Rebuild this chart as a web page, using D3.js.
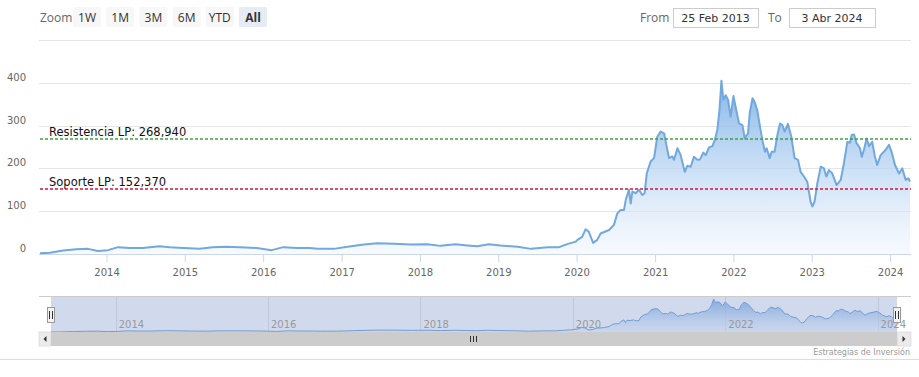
<!DOCTYPE html>
<html>
<head>
<meta charset="utf-8">
<script src="https://cdn.jsdelivr.net/npm/d3@7/dist/d3.min.js"></script>
<style>
  body { margin: 0; background: #fff; }
  svg { display: block; font-family: "DejaVu Sans", Verdana, sans-serif; }
</style>
</head>
<body>
<div id="chart"></div>
<script>
// price series
const dates = [
  "2013-02-25","2013-04-12","2013-06-13","2013-08-13","2013-10-07","2013-11-22",
  "2014-01-08","2014-02-24","2014-04-18","2014-06-20","2014-09-05","2014-10-22","2014-12-25",
  "2015-03-11","2015-05-11","2015-07-12","2015-09-13","2015-12-02",
  "2016-02-10","2016-04-04","2016-06-06","2016-08-07","2016-09-10","2016-11-25",
  "2017-02-13","2017-04-15","2017-06-16","2017-09-01","2017-11-18",
  "2018-02-05","2018-04-06","2018-06-16","2018-08-10","2018-09-25","2018-11-18",
  "2019-01-11","2019-04-01","2019-06-03","2019-08-19","2019-10-12","2019-11-18","2019-12-28",
  "2020-01-05","2020-01-27","2020-02-12","2020-02-27","2020-03-18","2020-04-06","2020-04-22",
  "2020-05-31","2020-06-23","2020-07-09","2020-07-24","2020-08-09","2020-08-17","2020-09-01",
  "2020-09-09","2020-09-17","2020-10-02","2020-10-18","2020-11-02","2020-11-13","2020-11-23",
  "2020-12-11","2020-12-27",
  "2021-01-11","2021-01-27","2021-02-12","2021-02-24","2021-03-07","2021-03-22","2021-03-30",
  "2021-04-15","2021-04-30","2021-05-19","2021-05-31","2021-06-16","2021-07-01","2021-07-17",
  "2021-07-29","2021-08-14","2021-08-25","2021-09-09","2021-09-25","2021-10-06","2021-10-18",
  "2021-10-28","2021-11-06","2021-11-15","2021-11-26","2021-12-07","2021-12-19",
  "2022-01-01","2022-01-11","2022-01-27","2022-02-12","2022-02-23","2022-03-10","2022-03-18",
  "2022-03-31","2022-04-11","2022-04-22","2022-05-05","2022-05-16","2022-05-28","2022-06-05",
  "2022-06-19","2022-06-28","2022-07-12","2022-07-25","2022-08-06","2022-08-17","2022-08-28",
  "2022-09-12","2022-09-28","2022-10-13","2022-10-29","2022-11-10","2022-11-26","2022-12-11",
  "2022-12-27",
  "2023-01-04","2023-01-14","2023-01-27","2023-02-12","2023-02-27","2023-03-10","2023-03-22",
  "2023-04-07","2023-04-27","2023-05-16","2023-05-31","2023-06-16","2023-06-28","2023-07-06",
  "2023-07-17","2023-07-29","2023-08-14","2023-08-22","2023-09-01","2023-09-14","2023-09-25",
  "2023-10-10","2023-10-21","2023-11-02","2023-11-18","2023-12-11","2023-12-27",
  "2024-01-08","2024-01-24","2024-02-12","2024-02-27","2024-03-14","2024-03-26","2024-04-03"
];
const prices = [
  2, 3, 8, 11, 12, 7,
  9, 16, 14, 14, 18, 16, 14,
  12, 16, 17, 16, 14,
  9, 16, 14, 14, 12, 12,
  18, 22, 25, 24, 22,
  23, 19, 23, 20, 18, 23,
  20, 17, 12, 16, 16, 23, 29,
  33, 40, 58, 52, 26, 33, 48,
  56, 68, 95, 103, 103, 126, 150,
  118, 146, 142, 150, 138, 142, 188,
  216, 224,
  274, 286, 282, 251, 224, 228, 220,
  247, 231, 192, 206, 204, 227, 220,
  221, 237, 231, 249, 252, 266, 290,
  336, 405, 361, 371, 360, 321,
  369, 344, 305, 301, 270, 282, 329,
  364, 354, 336, 297, 266, 239, 247,
  224, 239, 239, 278, 305, 301, 286,
  304, 274, 224, 220, 192, 181, 169,
  122,
  111, 122, 165, 204, 200, 181, 196,
  188, 161, 173, 212, 262, 260, 278,
  279, 259, 247, 227, 243, 270, 252,
  262, 231, 208, 231, 243, 255,
  239, 208, 188, 200, 173, 177, 169
];

// long term support / resistance
const levelNames = ["Resistencia LP", "Soporte LP"];
const levelValues = [268.94, 152.37];
const levelColors = ["#3fa23f", "#d8143c"];

const yTicks = [0, 100, 200, 300, 400, 500];
const zoomButtons = ["1W", "1M", "3M", "6M", "YTD", "All"];
const rangeFrom = "25 Feb 2013";
const rangeTo = "3 Abr 2024";
const creditText = "Estrategias de Inversión";

function StockConfig() {
  let config = {
    width: 919,
    height: 377,
    lineColor: "#72a8de",
    gridColor: "#e6e6e6",
    axisColor: "#ccd6eb",
    labelColor: "#666666",
    plot: { left: 40, right: 910, top: 40, bottom: 254 },
    nav: { left: 51, right: 897, top: 297, bottom: 332 },
    scroll: { left: 39, right: 911, top: 332, bottom: 346 },
    container: d3.select("#chart").append("svg")
  };
  config.container
    .attr("width", config.width)
    .attr("height", config.height);
  return config;
}

let cfg = StockConfig();
let svg = cfg.container;
let parse = d3.timeParse("%Y-%m-%d");
let series = dates.map((d, i) => ({ date: parse(d), value: prices[i] }));
let esFormat = d3.formatLocale({ decimal: ",", thousands: ".", grouping: [3], currency: ["", "€"] }).format(",.3f");

let x = d3.scaleTime()
  .domain(d3.extent(series, d => d.date))
  .range([cfg.plot.left, cfg.plot.right]);
let y = d3.scaleLinear()
  .domain([0, 500])
  .range([cfg.plot.bottom, cfg.plot.top]);

// gradients
let defs = svg.append("defs");
function addGradient(id, y1, y2) {
  let g = defs.append("linearGradient")
    .attr("id", id)
    .attr("gradientUnits", "userSpaceOnUse")
    .attr("x1", 0).attr("x2", 0)
    .attr("y1", y1).attr("y2", y2);
  g.append("stop").attr("offset", 0).attr("stop-color", "#80b2e8").attr("stop-opacity", 0.95);
  g.append("stop").attr("offset", 1).attr("stop-color", "#eef5fd").attr("stop-opacity", 0.5);
}
addGradient("mainFill", y(400), cfg.plot.bottom);
addGradient("navFill", cfg.nav.top, cfg.nav.bottom);

// range selector
svg.append("text")
  .attr("x", 40).attr("y", 22)
  .attr("fill", cfg.labelColor)
  .style("font-family", "'Open Sans', sans-serif")
  .style("font-size", "12px")
  .text("Zoom");

let btn = svg.selectAll("g.btn")
  .data(zoomButtons)
  .enter()
  .append("g")
  .attr("transform", (d, i) => `translate(${73 + i * 33.2},7)`);
btn.append("rect")
  .attr("width", 28).attr("height", 20).attr("rx", 2)
  .attr("fill", d => d === "All" ? "#e6ebf5" : "#f7f7f7");
btn.append("text")
  .attr("x", 14).attr("y", 14.5)
  .attr("text-anchor", "middle")
  .attr("fill", "#333")
  .style("font-family", "'Open Sans', sans-serif")
  .style("font-size", "12px")
  .style("font-weight", d => d === "All" ? "bold" : "normal")
  .text(d => d);

// date inputs
[["From", 640, 673, 85, rangeFrom], ["To", 768, 789, 86, rangeTo]].forEach(r => {
  svg.append("text")
    .attr("x", r[1]).attr("y", 22)
    .attr("fill", cfg.labelColor)
    .style("font-family", "'Open Sans', sans-serif")
    .style("font-size", "12px")
    .text(r[0]);
  svg.append("rect")
    .attr("x", r[2] + 0.5).attr("y", 8.5)
    .attr("width", r[3]).attr("height", 19)
    .attr("fill", "#fff").attr("stroke", "#cccccc");
  svg.append("text")
    .attr("x", r[2] + r[3] / 2).attr("y", 22)
    .attr("text-anchor", "middle")
    .attr("fill", "#333")
    .style("font-size", "11px")
    .text(r[4]);
});

// y grid + labels
svg.append("g")
  .selectAll("line")
  .data(yTicks)
  .enter()
  .append("line")
  .attr("x1", cfg.plot.left - 1).attr("x2", cfg.plot.right + 1)
  .attr("y1", d => Math.round(y(d)) + 0.5).attr("y2", d => Math.round(y(d)) + 0.5)
  .attr("stroke", cfg.gridColor);

svg.append("g")
  .selectAll("text")
  .data(yTicks.filter(t => t < 500))
  .enter()
  .append("text")
  .attr("x", 26)
  .attr("y", d => y(d) - 2)
  .attr("text-anchor", "end")
  .attr("fill", cfg.labelColor)
  .style("font-size", "10px")
  .text(d => d);

// x axis
let xAxis = d3.axisBottom(x)
  .ticks(d3.timeYear.every(1))
  .tickFormat(d3.timeFormat("%Y"))
  .tickSize(8)
  .tickPadding(7);
let gx = svg.append("g")
  .attr("transform", `translate(0,${cfg.plot.bottom})`)
  .call(xAxis);
gx.select(".domain").attr("stroke", cfg.axisColor).attr("d", `M${cfg.plot.left - 1},0.5H${cfg.plot.right + 1}`);
gx.selectAll(".tick line").attr("stroke", cfg.axisColor);
gx.selectAll(".tick text")
  .attr("fill", cfg.labelColor)
  .style("font-family", "'DejaVu Sans', Verdana, sans-serif")
  .style("font-size", "10px");

// area + line
svg.append("path")
  .datum(series)
  .attr("fill", "url(#mainFill)")
  .attr("d", d3.area().x(d => x(d.date)).y0(y(0)).y1(d => y(d.value)));
svg.append("path")
  .datum(series)
  .attr("fill", "none")
  .attr("stroke", cfg.lineColor)
  .attr("stroke-width", 2)
  .attr("stroke-linejoin", "round")
  .attr("d", d3.line().x(d => x(d.date)).y(d => y(d.value)));

// support / resistance lines
let levels = svg.append("g").attr("class", "levels");
levels.selectAll("path")
  .data(levelValues)
  .enter()
  .append("path")
  .attr("d", d => `M${cfg.plot.left},${Math.round(y(d))}H${cfg.plot.right + 1}`)
  .style("stroke", (d, i) => levelColors[i])
  .style("stroke-width", "1.4px")
  .style("stroke-dasharray", "3,2")
  .style("fill", "none");
levels.selectAll("text")
  .data(levelValues)
  .enter()
  .append("text")
  .attr("x", 49)
  .attr("y", d => y(d) - 3)
  .attr("fill", "#111")
  .style("font-size", "11.5px")
  .text((d, i) => `${levelNames[i]}: ${esFormat(d)}`);

// navigator
let nx = d3.scaleTime()
  .domain(x.domain())
  .range([cfg.nav.left, cfg.nav.right]);
let ny = d3.scaleLinear()
  .domain(d3.extent(series, d => d.value))
  .range([cfg.nav.bottom, cfg.nav.top + 2]);
let navYears = d3.timeYear.every(2).range(new Date(2014, 0, 1), x.domain()[1]);

svg.append("g")
  .selectAll("line")
  .data(navYears)
  .enter()
  .append("line")
  .attr("x1", d => Math.round(nx(d)) + 0.5).attr("x2", d => Math.round(nx(d)) + 0.5)
  .attr("y1", cfg.nav.top).attr("y2", cfg.nav.bottom)
  .attr("stroke", "#e6e6e6");

svg.append("path")
  .datum(series)
  .attr("fill", "url(#navFill)")
  .attr("d", d3.area().x(d => nx(d.date)).y0(cfg.nav.bottom).y1(d => ny(d.value)));
svg.append("path")
  .datum(series)
  .attr("fill", "none")
  .attr("stroke", cfg.lineColor)
  .attr("stroke-width", 1)
  .attr("d", d3.line().x(d => nx(d.date)).y(d => ny(d.value)));

// selected range mask
svg.append("rect")
  .attr("x", cfg.nav.left).attr("y", cfg.nav.top)
  .attr("width", cfg.nav.right - cfg.nav.left)
  .attr("height", cfg.nav.bottom - cfg.nav.top)
  .attr("fill", "rgba(102,133,194,0.3)");

svg.append("line")
  .attr("x1", cfg.scroll.left).attr("x2", cfg.scroll.right)
  .attr("y1", cfg.nav.top - 0.5).attr("y2", cfg.nav.top - 0.5)
  .attr("stroke", "#cccccc");

svg.append("g")
  .selectAll("text")
  .data(navYears)
  .enter()
  .append("text")
  .attr("x", d => nx(d) + 3)
  .attr("y", cfg.nav.bottom - 4)
  .attr("fill", "#999")
  .style("font-size", "10px")
  .text(d3.timeFormat("%Y"));

// handles
let handle = svg.selectAll("g.handle")
  .data([cfg.nav.left, cfg.nav.right])
  .enter()
  .append("g")
  .attr("transform", d => `translate(${Math.round(d)},307)`);
handle.append("rect")
  .attr("x", -3.5).attr("y", 0.5)
  .attr("width", 7).attr("height", 15)
  .attr("fill", "#f2f2f2").attr("stroke", "#999");
handle.append("path")
  .attr("d", "M-1.5,4V12M1.5,4V12")
  .attr("stroke", "#333").attr("stroke-width", 1);

// scrollbar
svg.append("rect")
  .attr("x", cfg.scroll.left).attr("y", cfg.scroll.top)
  .attr("width", cfg.scroll.right - cfg.scroll.left)
  .attr("height", cfg.scroll.bottom - cfg.scroll.top)
  .attr("fill", "#f2f2f2");
svg.append("rect")
  .attr("x", cfg.nav.left).attr("y", cfg.scroll.top)
  .attr("width", cfg.nav.right - cfg.nav.left)
  .attr("height", cfg.scroll.bottom - cfg.scroll.top)
  .attr("fill", "#cccccc");
[[cfg.scroll.left, cfg.nav.left, -1], [cfg.nav.right, cfg.scroll.right, 1]].forEach(b => {
  svg.append("rect")
    .attr("x", b[0]).attr("y", cfg.scroll.top)
    .attr("width", b[1] - b[0]).attr("height", cfg.scroll.bottom - cfg.scroll.top)
    .attr("fill", "#ebebeb").attr("stroke", "#cccccc").attr("stroke-width", 0.5);
  let cx = (b[0] + b[1]) / 2, cy = (cfg.scroll.top + cfg.scroll.bottom) / 2;
  svg.append("path")
    .attr("d", `M${cx - 1.5 * b[2]},${cy - 3}L${cx + 1.5 * b[2]},${cy}L${cx - 1.5 * b[2]},${cy + 3}Z`)
    .attr("fill", "#333");
});
let rx = Math.round((cfg.nav.left + cfg.nav.right) / 2);
svg.append("path")
  .attr("d", `M${rx - 3.5},336V342M${rx - 0.5},336V342M${rx + 2.5},336V342`)
  .attr("stroke", "#333");

// credits + bottom rule
svg.append("text")
  .attr("x", 910).attr("y", 355)
  .attr("text-anchor", "end")
  .attr("fill", "#999")
  .style("font-size", "8px")
  .text(creditText);
svg.append("line")
  .attr("x1", 0).attr("x2", cfg.width)
  .attr("y1", 359.5).attr("y2", 359.5)
  .attr("stroke", "#d8dde6");
</script>
</body>
</html>
